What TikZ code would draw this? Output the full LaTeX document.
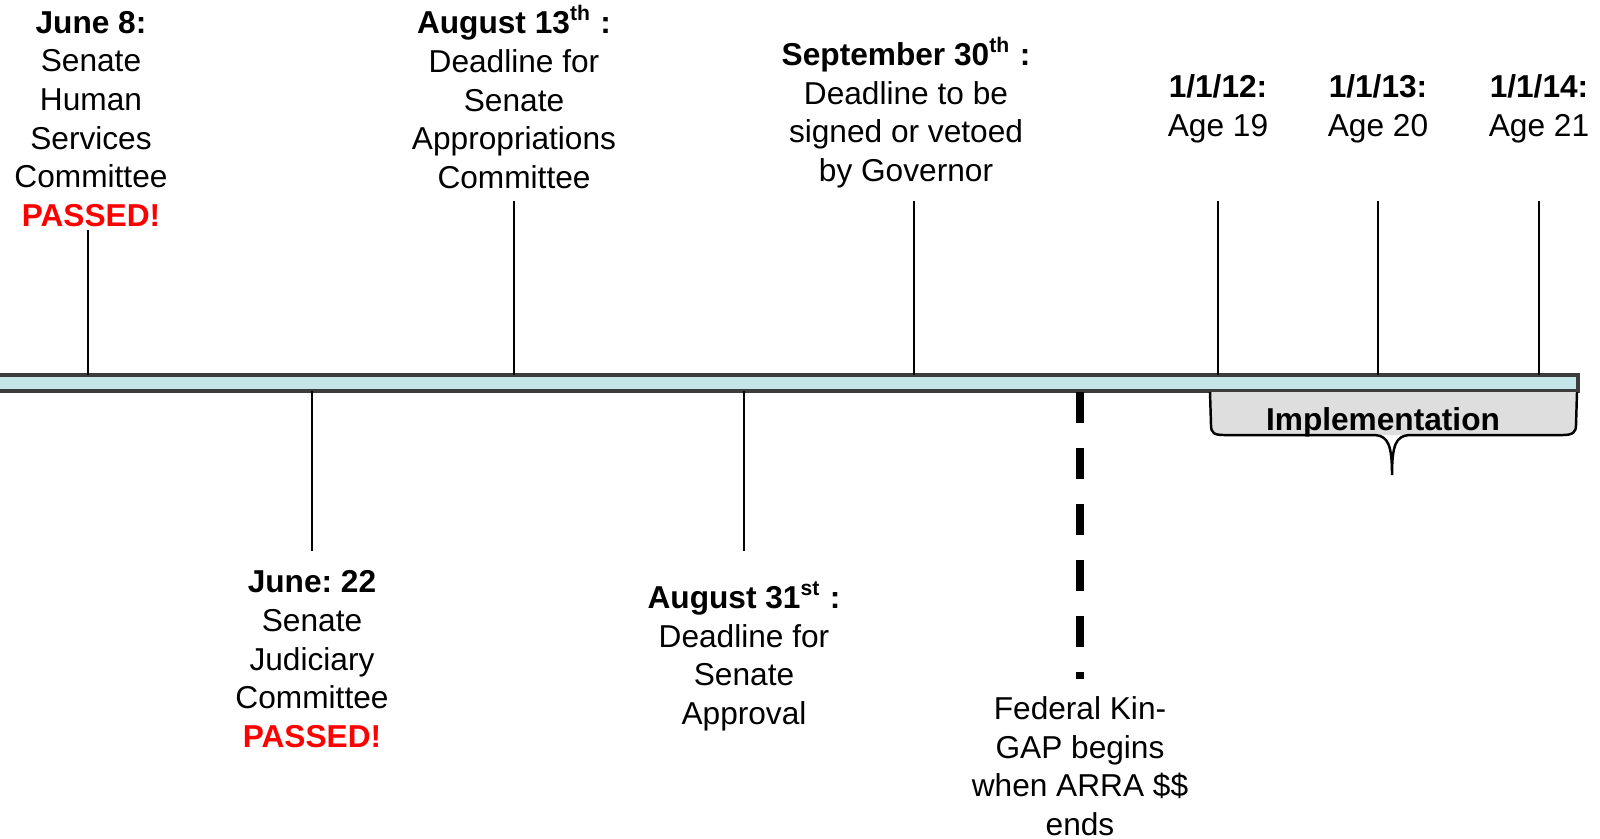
\documentclass[tikz,border=0pt]{standalone}
\usepackage{fontspec}
\setmainfont{Liberation Sans}
\frenchspacing
\definecolor{barfill}{HTML}{C4E6E8}
\definecolor{bargray}{HTML}{3C3C3C}
\definecolor{bracegray}{HTML}{DEDEDE}
\definecolor{passred}{HTML}{FF0000}
\tikzset{
  event/.style={anchor=north,align=center,inner sep=0pt,
    font=\fontsize{9}{11}\selectfont,text height=6.5pt,text depth=0pt},
  tick/.style={line width=0.5pt},
  kinline/.style={line width=2.3pt,dash pattern=on 0.31cm off 0.25cm},
}
\newcommand{\passed}{\textcolor{passred}{\textbf{PASSED!}}}

\begin{document}
\begin{tikzpicture}[x=0.01cm,y=-0.01cm]
\useasboundingbox (0,0) rectangle (1600,838);
% timeline bar
\draw[line width=0.9pt,color=bargray,fill=barfill](-5,375) rectangle (1578,391);
% events above (placed by their last line)
\node[event] (jun8) at (91,203) {\textbf{June 8:}\\Senate\\Human\\Services\\Committee\\\passed};
\node[event] (aug13) at (514,165) {\textbf{August 13\textsuperscript{th} :}\\Deadline for\\Senate\\Appropriations\\Committee};
\node[event] (sep30) at (906,158) {\textbf{September 30\textsuperscript{th} :}\\Deadline to be\\signed or vetoed\\by Governor};
\node[event] (y12) at (1218,113) {\textbf{1/1/12:}\\Age 19};
\node[event] (y13) at (1378,113) {\textbf{1/1/13:}\\Age 20};
\node[event] (y14) at (1539,113) {\textbf{1/1/14:}\\Age 21};
% events below
\node[event] (jun22) at (312,724) {\textbf{June: 22}\\Senate\\Judiciary\\Committee\\\passed};
\node[event] (aug31) at (744,701) {\textbf{August 31\textsuperscript{st} :}\\Deadline for\\Senate\\Approval};
\node[event] (kingap) at (1080,812) {Federal Kin-\\GAP begins\\when ARRA \$\$\\ends};
% ticks
\foreach \n/\x/\ya/\yb in {jun8/88/230/375,aug13/514/201/375,sep30/914/201/375,y12/1218/201/375,y13/1378/201/375,y14/1539/201/375,jun22/312/551/391,aug31/744/551/391}{
  \coordinate (\n top) at (\x,\ya);
  \coordinate (\n bar) at (\x,\yb);
  \draw[tick] (\n top) -- (\n bar);
}
\coordinate (kinbar) at (1080,392);
\coordinate (kinend) at (1080,679);
\draw[kinline] (kinbar) -- (kinend);
% implementation brace
\fill[bracegray] (1210,392) -- (1211,425) .. controls (1211,433) and (1214,435) .. (1224,435)
  -- (1563,435) .. controls (1573,435) and (1576,432) .. (1576,425) -- (1577,392) -- cycle;
\draw[line width=0.7pt] (1210,392) -- (1211,425) .. controls (1211,433) and (1214,435) .. (1224,435)
  -- (1375,435) .. controls (1388,436) and (1392,445) .. (1392,475)
  .. controls (1392,445) and (1396,436) .. (1409,435)
  -- (1563,435) .. controls (1573,435) and (1576,432) .. (1576,425) -- (1577,392);
\node[anchor=base,inner sep=0pt,font=\fontsize{9}{11}\selectfont\bfseries] (impl) at (1383,430) {Implementation};
\end{tikzpicture}
\end{document}
